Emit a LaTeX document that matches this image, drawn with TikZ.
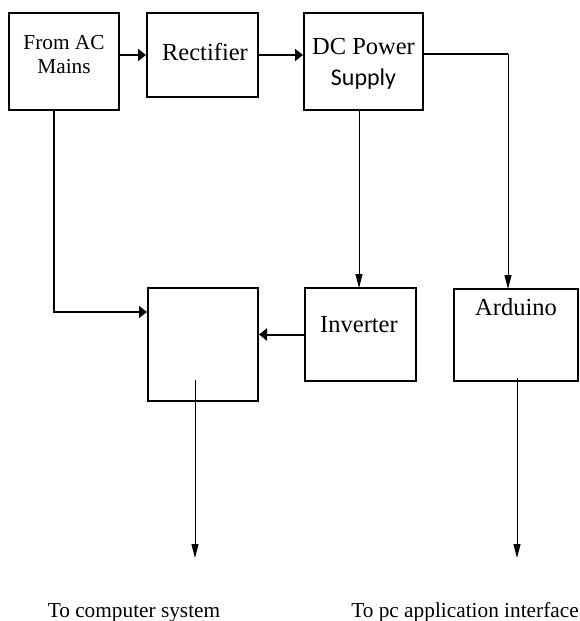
\documentclass[tikz,border=0pt]{standalone}
\usepackage{fontspec}
\setmainfont{Liberation Serif}
\newfontfamily\calfont{Carlito}
\usetikzlibrary{arrows.meta}
\begin{document}
\begin{tikzpicture}[x=1pt,y=-1pt,
  blk/.style={draw,line width=2pt,inner sep=0pt},
  big/.style={font=\fontsize{24.5}{28}\selectfont,inner sep=0pt},
  small/.style={font=\fontsize{21.3}{25}\selectfont,inner sep=0pt},
  thk/.style={line width=2pt},
  thn/.style={line width=1pt},
  thkarrow/.style={thk,-{Triangle[length=8pt,width=12pt]}},
  thnarrow/.style={thn,-{Triangle[length=14pt,width=7pt]}}]
\useasboundingbox (0,0) rectangle (580,621);
% boxes
\node[blk,minimum width=110pt,minimum height=97pt] (mains) at (64,61.5) {};
\node[blk,minimum width=111pt,minimum height=84pt] (rect) at (202.5,55) {};
\node[blk,minimum width=119pt,minimum height=97pt] (dc) at (363.5,61.5) {};
\node[blk,minimum width=110pt,minimum height=113pt] (blank) at (203,344) {};
\node[blk,minimum width=111pt,minimum height=93pt] (inv) at (360.5,334.5) {};
\node[blk,minimum width=124pt,minimum height=92pt] (ard) at (516,335) {};
% texts
\node[small] (t1) at (64,43) {From AC};
\node[small] (t2) at (64,67) {Mains};
\node[big] (t3) at (205,52) {Rectifier};
\node[big] (t4) at (363.5,47) {DC Power};
\node[big,font=\calfont\fontsize{24}{28}\selectfont] (t5) at (363.5,79) {Supply};
\node[big] (t6) at (359,325) {Inverter};
\node[big] (t7) at (516,307) {Arduino};
\node[small,anchor=base] (o1) at (134,617) {To computer system};
\node[small,anchor=base] (o2) at (465,617) {To pc application interface};
% coordinates
\coordinate (c1) at (508,54);
\coordinate (c2) at (508,289);
\coordinate (c3) at (359,110);
\coordinate (c4) at (359,288);
\coordinate (c5) at (54,110);
\coordinate (c6) at (54,312);
\coordinate (c7) at (195,380);
\coordinate (c8) at (195,558);
\coordinate (c9) at (517,378);
\coordinate (c10) at (517,558);
% connectors
\draw[thkarrow] (mains.east|-rect.west) -- (rect.west);
\draw[thkarrow] (rect.east) -- (rect.east-|dc.west);
\draw[thk] (dc.east|-c1) -- (c1);
\draw[thnarrow] (c1) -- (c2);
\draw[thnarrow] (c3) -- (c4);
\draw[thk,line width=1.5pt,-{Triangle[length=8pt,width=12pt]}] (c5) -- (c6) -- (c6-|blank.west);
\draw[thkarrow] (inv.west) -- (inv.west-|blank.east);
\draw[thnarrow] (c7) -- (c8);
\draw[thnarrow] (c9) -- (c10);
\end{tikzpicture}
\end{document}
